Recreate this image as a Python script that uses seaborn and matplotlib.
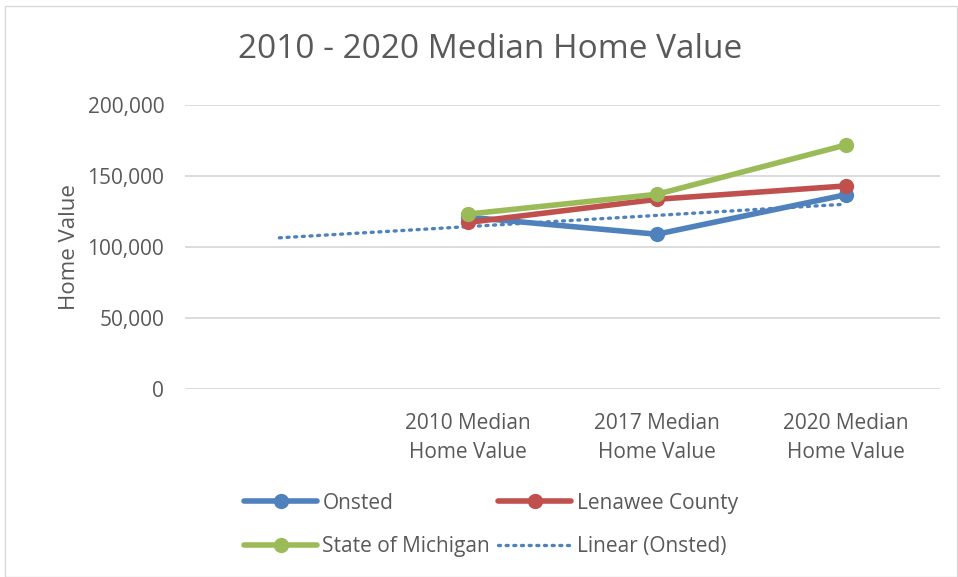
import numpy as np
import pandas as pd
import matplotlib
matplotlib.use("Agg")
import matplotlib.pyplot as plt
import seaborn as sns
from matplotlib.lines import Line2D
from matplotlib.patches import Rectangle

categories = ["", "2010 Median\nHome Value", "2017 Median\nHome Value", "2020 Median\nHome Value"]
onsted = [121000, 109000, 136800]
lenawee = [117300, 133600, 143000]
michigan = [123200, 137100, 171800]
yticks = [0, 50000, 100000, 150000, 200000]

sns.set_theme(style="white")
plt.rcParams['font.family'] = ['Open Sans', 'DejaVu Sans']

fig = plt.figure(figsize=(9.58, 5.77), dpi=100)
ax = fig.add_axes([185/958, 1-389/577, (940-185)/958, (389-105)/577])

pos = np.arange(1, 4)
colors = {"Onsted": "#4F81BD", "Lenawee County": "#C0504D", "State of Michigan": "#9BBB59"}
series = {"Onsted": onsted, "Lenawee County": lenawee, "State of Michigan": michigan}

for yv in yticks:
    ax.axhline(yv, color="#D9D9D9", lw=1.3, zorder=0)

for name, vals in series.items():
    sns.lineplot(x=pos, y=vals, ax=ax, color=colors[name], lw=4, marker="o",
                 markersize=11, markeredgewidth=0, zorder=3)

# linear trendline for Onsted, extended back one period
coef = np.polyfit(pos, onsted, 1)
tx = np.array([0, 3])
ax.plot(tx, np.polyval(coef, tx), color="#4F81BD", lw=2.4, ls=(0, (0.6, 1.7)),
        dash_capstyle="round", zorder=2)

ax.set_xlim(-0.5, 3.5)
ax.set_ylim(0, 200000)
ax.set_yticks(yticks)
ax.set_yticklabels([f"{v:,}" for v in yticks], fontsize=15, color="#595959")
ax.set_xticks(range(4))
ax.set_xticklabels(categories, fontsize=15, color="#595959", linespacing=1.5)
ax.tick_params(axis="y", length=0, pad=15)
ax.tick_params(axis="x", length=0, pad=17)
for s in ax.spines.values():
    s.set_visible(False)
ax.set_ylabel("Home Value", fontsize=16, color="#595959", labelpad=5)

fig.text(490/958, 1-50/577, "2010 - 2020 Median Home Value", ha="center", va="center",
         fontsize=24, color="#595959")

handles = [Line2D([], [], color=colors["Onsted"], lw=4, marker="o", markersize=11, markeredgewidth=0),
           Line2D([], [], color=colors["Lenawee County"], lw=4, marker="o", markersize=11, markeredgewidth=0),
           Line2D([], [], color=colors["State of Michigan"], lw=4, marker="o", markersize=11, markeredgewidth=0),
           Line2D([], [], color="#4F81BD", lw=2.4, ls=(0, (0.6, 1.7)), dash_capstyle="round")]
labels = ["Onsted", "Lenawee County", "State of Michigan", "Linear (Onsted)"]
order = [0, 2, 1, 3]
leg = fig.legend([handles[i] for i in order], [labels[i] for i in order], ncol=2,
                 loc="center", bbox_to_anchor=(491/958, 1-525/577), frameon=False,
                 fontsize=15, handlelength=3.5, columnspacing=0.4, handletextpad=0.25,
                 labelspacing=1.1, labelcolor="#595959")

fig.add_artist(Rectangle((5/958, 0), 1-6/958, 1-6/577, transform=fig.transFigure,
                         fill=False, edgecolor="#D9D9D9", lw=1))

fig.savefig("out.png", dpi=100)
